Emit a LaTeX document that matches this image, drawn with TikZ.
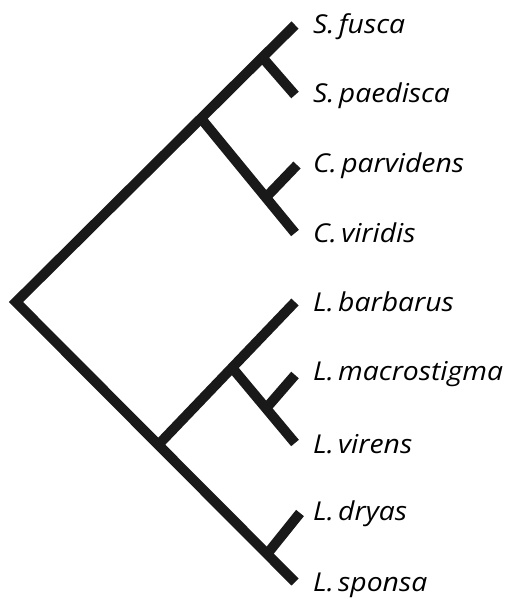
\documentclass[tikz,border=0pt]{standalone}
\usepackage{fontspec}
\setmainfont{Open Sans}[FakeStretch=1.09]
\usetikzlibrary{calc}
\begin{document}
\begin{tikzpicture}[x=1pt,y=-1pt,
  br/.style={line width=10pt, draw=black!90, line cap=butt, line join=miter},
  lab/.style={anchor=base west, inner sep=0pt, font=\fontsize{26}{30}\selectfont\itshape}]
\useasboundingbox (0,0) rectangle (506,600);
% coordinates
\coordinate (root) at (16,302);
\coordinate (tfus) at (295,25);
\coordinate (tpae) at (295,95);
\coordinate (tpar) at (297,165);
\coordinate (tvir) at (295,233);
\coordinate (tbar) at (295,302);
\coordinate (tmac) at (295,375);
\coordinate (tvrn) at (295,443);
\coordinate (tdry) at (300,513);
\coordinate (tspo) at (295,582);
\coordinate (nS) at ($(root)!0.883!(tfus)$);
\coordinate (nSC) at ($(root)!0.663!(tfus)$);
\coordinate (nC) at ($(nSC)!0.69!(tvir)$);
\coordinate (nL) at ($(root)!0.51!(tspo)$);
\coordinate (nMV) at ($(nL)!0.54!(tbar)$);
\coordinate (nMV2) at ($(nMV)!0.54!(tvrn)$);
\coordinate (nDS) at ($(root)!0.90!(tspo)$);
% branches
\draw[br] (tfus) -- (root) -- (tspo);
\draw[br] (nS) -- (tpae);
\draw[br] (nSC) -- (tvir);
\draw[br] (nC) -- (tpar);
\draw[br] (nL) -- (tbar);
\draw[br] (nMV) -- (tvrn);
\draw[br] (nMV2) -- (tmac);
\draw[br] (nDS) -- (tdry);
% labels
\node[lab] (lfus) at (313,33) {S.\,fusca};
\node[lab] (lpae) at (313,102) {S.\,paedisca};
\node[lab] (lpar) at (313,172) {C.\,parvidens};
\node[lab] (lvir) at (313,242) {C.\,viridis};
\node[lab] (lbar) at (313,311) {L.\,barbarus};
\node[lab] (lmac) at (313,380) {L.\,macrostigma};
\node[lab] (lvrn) at (313,453) {L.\,virens};
\node[lab] (ldry) at (313,520) {L.\,dryas};
\node[lab] (lspo) at (313,591) {L.\,sponsa};
\end{tikzpicture}
\end{document}
